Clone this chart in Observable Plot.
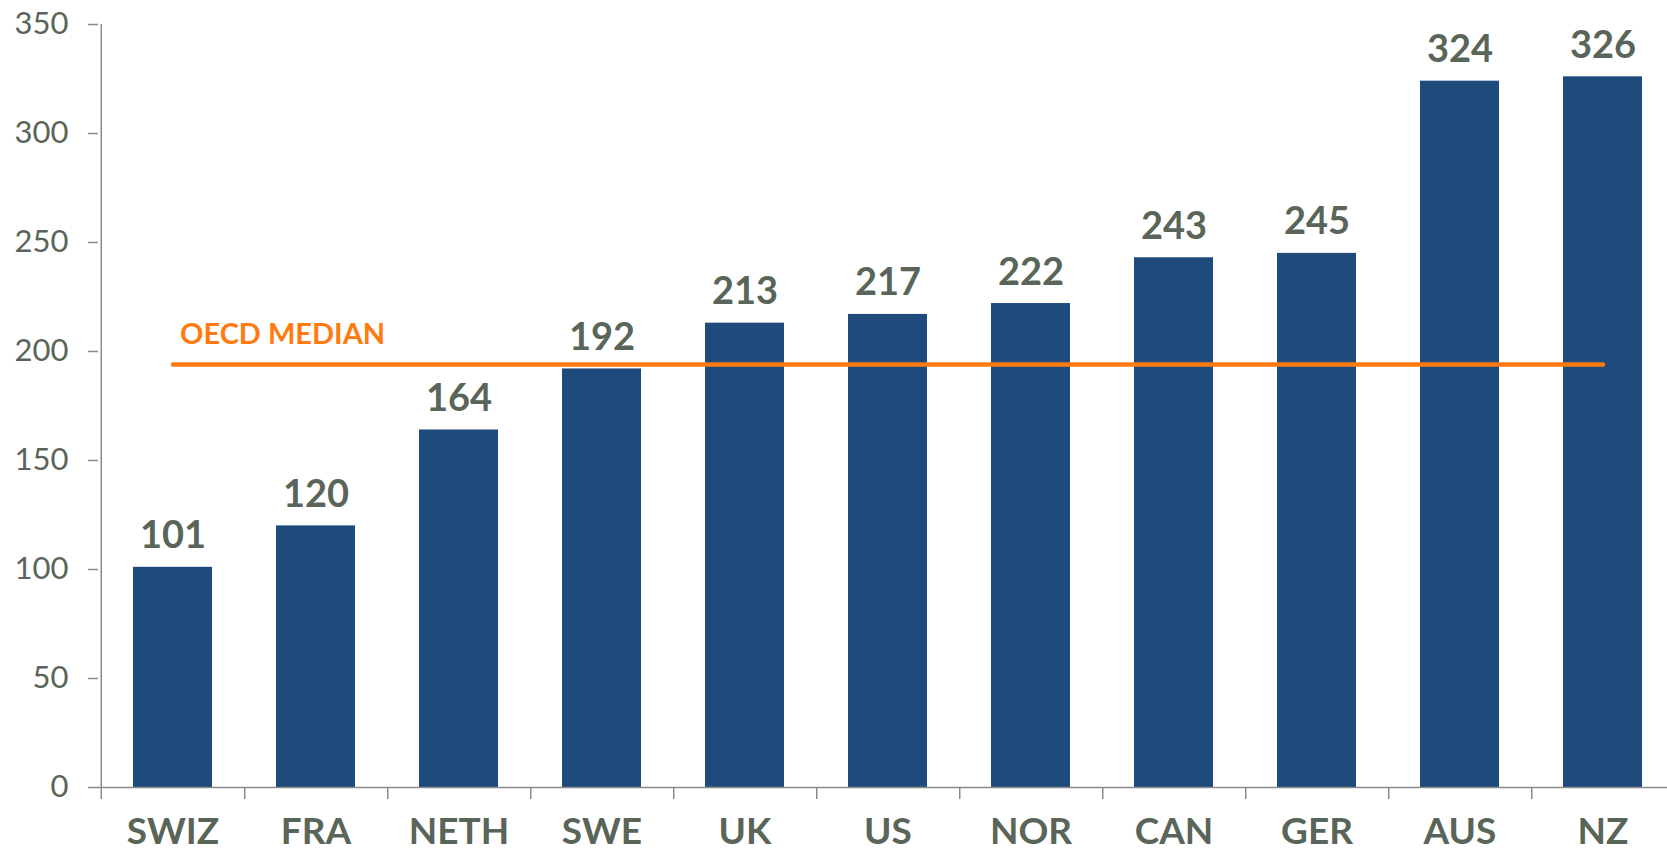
<!DOCTYPE html>
<html>
<head>
<meta charset="utf-8">
<script src="https://cdn.jsdelivr.net/npm/d3@7"></script>
<script src="https://cdn.jsdelivr.net/npm/@observablehq/plot@0.6"></script>
<style>
  html, body { margin: 0; padding: 0; background: #fff; }
  #chart svg { display: block; }
</style>
</head>
<body>
<div id="chart"></div>
<script>
const countries = ["SWIZ", "FRA", "NETH", "SWE", "UK", "US", "NOR", "CAN", "GER", "AUS", "NZ"];
const values = [101, 120, 164, 192, 213, 217, 222, 243, 245, 324, 326];
const medianValue = 194;
const medianLabel = "OECD MEDIAN";
const yTicks = [0, 50, 100, 150, 200, 250, 300, 350];

const data = countries.map((c, i) => ({country: c, value: values[i]}));
const medianLine = countries.map(c => ({country: c, value: medianValue}));

const W = 1667, H = 851;
const mL = 98, mR = -9, mT = 24, mB = 64;
const step = (W - mL - mR) / countries.length;

const textColor = "#5a6559";
const axisColor = "#8a8a8a";
const barColor = "#1f4a7c";
const orange = "#ff7b0f";

const chart = Plot.plot({
  width: W,
  height: H,
  marginLeft: mL,
  marginRight: mR,
  marginTop: mT,
  marginBottom: mB,
  style: {fontFamily: "Lato, sans-serif", background: "#fff"},
  x: {domain: countries, paddingInner: 0.45, paddingOuter: 0.225, label: null},
  y: {domain: [0, 350], label: null},
  marks: [
    Plot.barY(data, {x: "country", y: "value", fill: barColor}),
    Plot.lineY(medianLine, {x: "country", y: "value", stroke: orange, strokeWidth: 4.5, strokeLinecap: "round"}),
    Plot.text([medianLabel], {x: () => countries[0], y: () => medianValue, text: d => d, textAnchor: "start", lineAnchor: "bottom", dx: 7, dy: -21, fill: orange, fontSize: 29, fontWeight: "bold"}),
    Plot.text(data, {x: "country", y: "value", text: d => String(d.value), lineAnchor: "bottom", dy: -19, fill: textColor, fontSize: 38, fontWeight: "bold"}),
    // x axis baseline
    Plot.ruleY([0], {stroke: axisColor, strokeWidth: 1.5}),
    // y axis line (spans the frame, extended below the baseline)
    Plot.ruleX([countries[0]], {x: d => d, dx: -step / 2, insetBottom: -12, stroke: axisColor, strokeWidth: 1.5}),
    // x ticks at band boundaries
    Plot.ruleX(countries, {x: d => d, y1: 0, y2: 0, dx: step / 2, insetBottom: -12, stroke: axisColor, strokeWidth: 1.5}),
    Plot.axisY({ticks: yTicks, tickSize: 10, tickPadding: 20, stroke: axisColor, fill: textColor, fontSize: 31, strokeWidth: 1.5}),
    Plot.axisX({tickSize: 0, tickPadding: 30, fill: textColor, fontSize: 37, fontWeight: "bold"})
  ]
});
document.getElementById("chart").appendChild(chart);
</script>
</body>
</html>
